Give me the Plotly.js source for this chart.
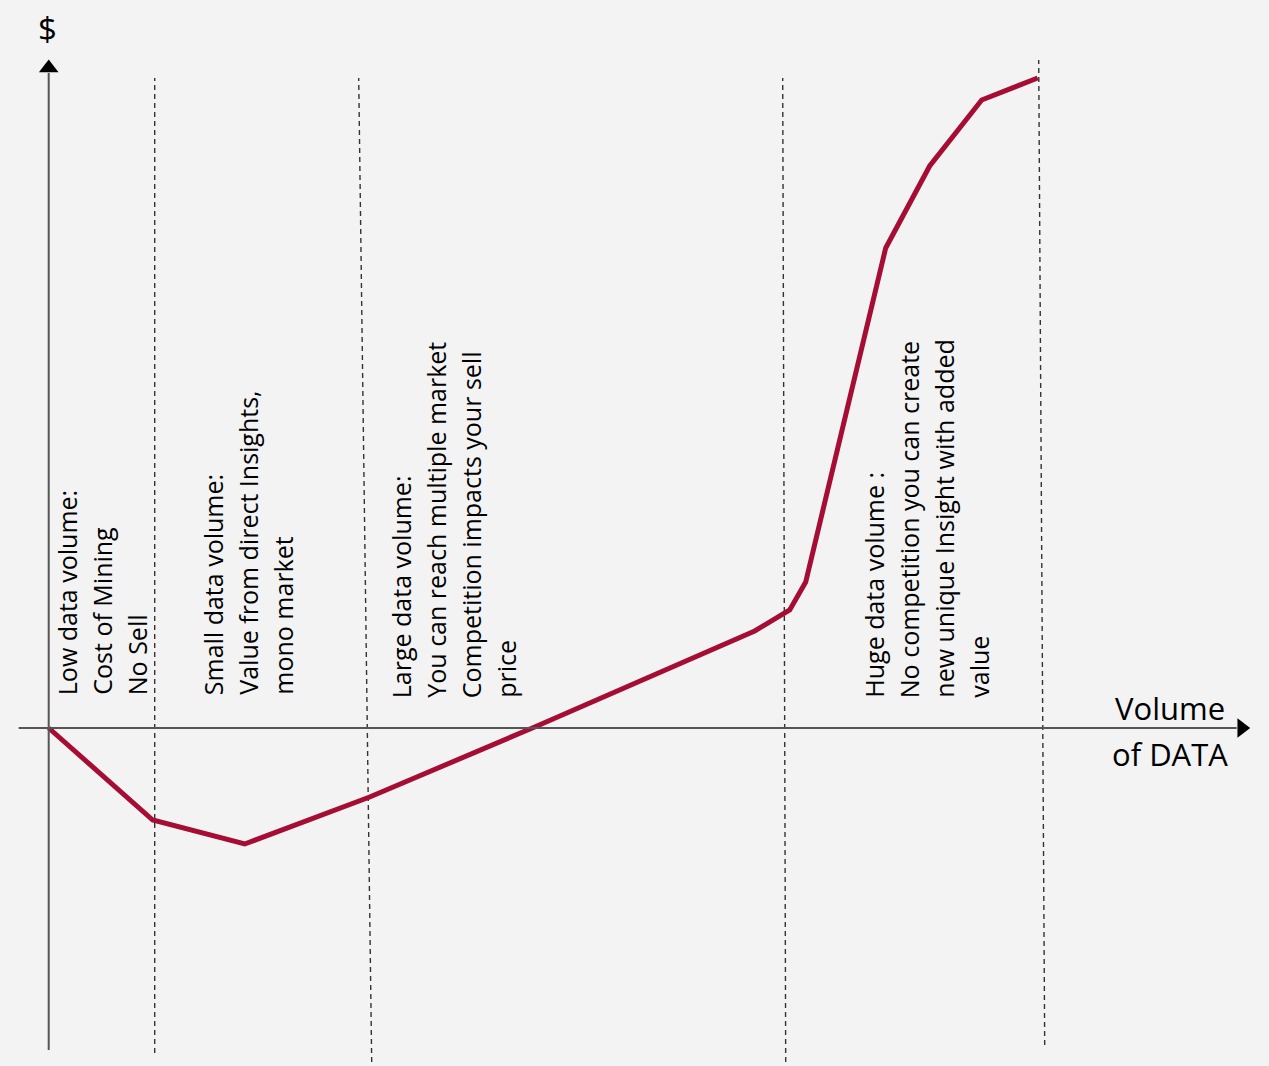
<!DOCTYPE html>
<html>
<head>
<meta charset="utf-8">
<script src="https://cdn.plot.ly/plotly-3.0.1.min.js"></script>
<style>
html,body{margin:0;padding:0;background:#f3f3f3;}
#chart{width:1269px;height:1066px;}
</style>
</head>
<body>
<div id="chart"></div>
<script>
// Curve: volume of data vs value ($), in chart units (origin at axis crossing)
const volume = [0, 104, 196, 321, 486, 706, 741, 757, 837, 881, 933, 989];
const value  = [0, -92, -116, -69, 1, 97, 118, 146, 480, 562, 628, 650];

// Stage boundaries (dashed lines): top and bottom x positions
const boundaryTop    = [106, 310, 734, 990];
const boundaryBottom = [106, 323, 737, 996];
const boundaryTopY    = [650, 650, 650, 668];
const boundaryBottomY = [-325, -334, -334, -317];

// Stage annotations (one entry per text line)
const stageLines = [
  ["Low data volume:", "Cost of Mining", "No Sell"],
  ["Small data volume:", "Value from direct Insights,", "mono market"],
  ["Large data volume:", "You can reach multiple market", "Competition impacts your sell", "price"],
  ["Huge data volume :", "No competition you can create", "new unique Insight with added", "value"]
];
const stageX = [18, 164, 352, 825];      // x of the first line of each block
const stageBaseY = [31, 31, 28, 28];     // bottom of the text
const lineStep = 35;

const yAxisLabel = "$";
const xAxisLabel = ["Volume", "of DATA"];

const xr = [-48.7, 1269 - 48.7];
const yr = [728 - 1066, 728];

const traces = [];
traces.push({
  x: volume, y: value, mode: 'lines', type: 'scatter',
  line: {color: '#a50d35', width: 5}, hoverinfo: 'skip'
});
// arrow heads
traces.push({
  x: [0], y: [660], mode: 'markers', type: 'scatter',
  marker: {symbol: 'triangle-up', size: 17, color: '#000'}, hoverinfo: 'skip'
});
traces.push({
  x: [1193], y: [0], mode: 'markers', type: 'scatter',
  marker: {symbol: 'triangle-right', size: 17, color: '#000'}, hoverinfo: 'skip'
});

const shapes = [];
// axes
shapes.push({type: 'line', xref: 'x', yref: 'y', x0: 0, x1: 0, y0: -322, y1: 655, line: {color: '#555', width: 2}});
shapes.push({type: 'line', xref: 'x', yref: 'y', x0: -30, x1: 1188, y0: 0, y1: 0, line: {color: '#555', width: 2}});
for (let i = 0; i < boundaryTop.length; i++) {
  shapes.push({type: 'line', xref: 'x', yref: 'y', x0: boundaryBottom[i], x1: boundaryTop[i],
    y0: boundaryBottomY[i], y1: boundaryTopY[i], line: {color: '#333', width: 1.4, dash: '5px,4px'}, layer: 'below'});
}

const annotations = [];
const font = {family: 'Open Sans, sans-serif', size: 25, color: '#000'};
stageLines.forEach((lines, b) => {
  lines.forEach((t, j) => {
    annotations.push({
      text: t, x: stageX[b] + j * lineStep, y: stageBaseY[b], xref: 'x', yref: 'y',
      textangle: -90, showarrow: false, xanchor: 'center', yanchor: 'bottom', font: font
    });
  });
});
annotations.push({text: yAxisLabel, x: -1, y: 700, xref: 'x', yref: 'y', showarrow: false,
  font: {family: 'Open Sans, sans-serif', size: 33, color: '#000'}});
annotations.push({text: xAxisLabel[0], x: 1121, y: 20, xref: 'x', yref: 'y', showarrow: false,
  font: {family: 'Open Sans, sans-serif', size: 31, color: '#000'}});
annotations.push({text: xAxisLabel[1], x: 1121, y: -26, xref: 'x', yref: 'y', showarrow: false,
  font: {family: 'Open Sans, sans-serif', size: 31, color: '#000'}});

const layout = {
  width: 1269, height: 1066,
  margin: {l: 0, r: 0, t: 0, b: 0},
  paper_bgcolor: '#f3f3f3', plot_bgcolor: '#f3f3f3',
  showlegend: false,
  xaxis: {range: xr, visible: false, fixedrange: true},
  yaxis: {range: yr, visible: false, fixedrange: true},
  shapes: shapes, annotations: annotations
};
Plotly.newPlot('chart', traces, layout, {staticPlot: true});
</script>
</body>
</html>
